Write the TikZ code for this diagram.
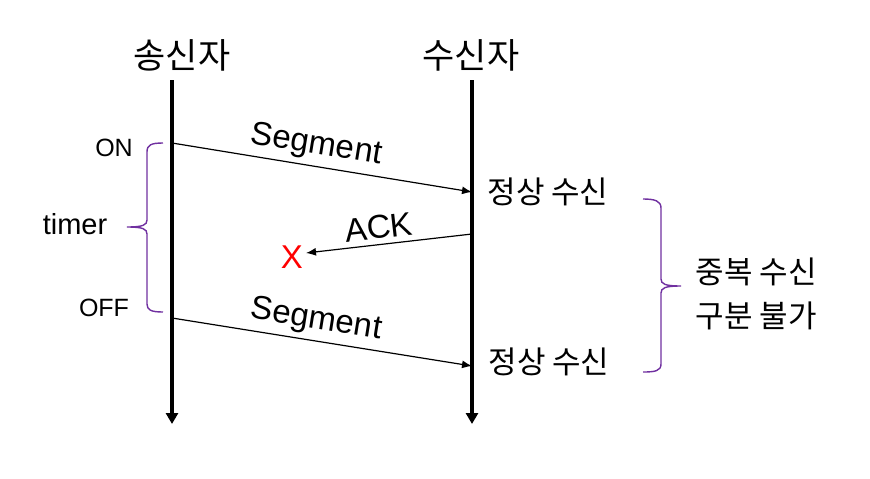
\documentclass[tikz,border=0pt]{standalone}
\usepackage{fontspec}
\setmainfont{Liberation Sans}
\newfontfamily\krfont{Noto Sans CJK KR}
\usetikzlibrary{arrows.meta}
\definecolor{bracecol}{HTML}{7030A0}
\begin{document}
\begin{tikzpicture}[x=1pt,y=-1pt,
  hdr/.style={font=\krfont\fontsize{35}{40}\selectfont, inner sep=0pt},
  krlab/.style={font=\krfont\fontsize{31}{44}\selectfont, inner sep=0pt, align=center},
  lab/.style={font=\fontsize{25}{28}\selectfont, inner sep=0pt},
  msglab/.style={font=\fontsize{33}{36}\selectfont, inner sep=2pt},
  life/.style={line width=3.6pt, -{Triangle[length=11pt,width=12pt]}},
  msg/.style={line width=1.2pt, -{Latex[length=10pt,width=8pt]}},
  brc/.style={draw=bracecol, line width=1.4pt}]
\useasboundingbox (0,0) rectangle (870,479);

\node[hdr] (s) at (182,55) {송신자};
\node[hdr] (r) at (471,55) {수신자};

\coordinate (s0) at (172,80);
\coordinate (s1) at (172,424);
\coordinate (r0) at (472,80);
\coordinate (r1) at (472,424);
\draw[life] (s0) -- (s1);
\draw[life] (r0) -- (r1);

\coordinate (a1) at (172,143);
\coordinate (b1) at (472,192);
\draw[msg] (a1) -- (b1) node[pos=0.47, above=3pt, sloped, msglab] (seg1) {Segment};

\coordinate (c1) at (472,234);
\node[text=red, font=\fontsize{33}{36}\selectfont, inner sep=0pt] (xm) at (292,257) {X};
\coordinate (c2) at (306,253);
\draw[msg] (c1) -- (c2) node[pos=0.55, above=3pt, sloped, msglab] (ack) {ACK};

\coordinate (a2) at (172,318);
\coordinate (b2) at (472,366);
\draw[msg] (a2) -- (b2) node[pos=0.47, above=3pt, sloped, msglab] (seg2) {Segment};

\node[krlab] (ok1) at (548,192) {정상 수신};
\node[krlab] (ok2) at (549,362) {정상 수신};
\node[krlab] (dup) at (756,294) {중복 수신\\구분 불가};

\node[lab] (on) at (114,148) {ON};
\node[lab] (off) at (104,308) {OFF};
\node[font=\fontsize{29}{32}\selectfont, inner sep=0pt] (tm) at (75,224) {timer};

\draw[brc] (163,143) .. controls (151,143) and (147,145) .. (147,152)
  -- (147,220) .. controls (147,225) and (143,227) .. (127,227)
  .. controls (143,227) and (147,229) .. (147,234)
  -- (147,304) .. controls (147,310) and (151,312) .. (163,312);

\draw[brc] (643,199) .. controls (655,199) and (661,201) .. (661,208)
  -- (661,279) .. controls (661,284) and (665,286) .. (681,286)
  .. controls (665,286) and (661,288) .. (661,293)
  -- (661,364) .. controls (661,371) and (655,372) .. (643,372);
\end{tikzpicture}
\end{document}
